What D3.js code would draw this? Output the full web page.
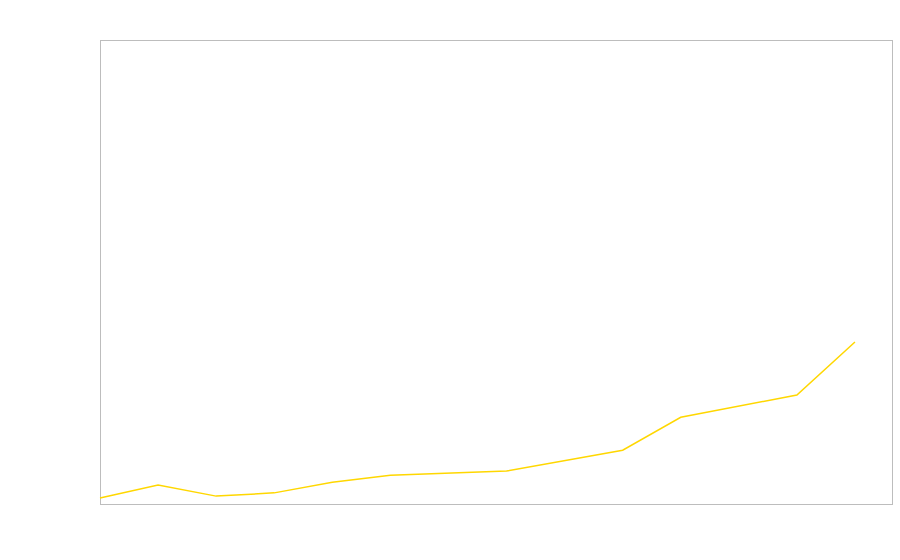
<!DOCTYPE html>
<html>
<head>
<meta charset="utf-8">
<script src="https://cdn.jsdelivr.net/npm/d3@7"></script>
<style>
  html, body { margin: 0; padding: 0; background: #fff; }
</style>
</head>
<body>
<div id="chart"></div>
<script>
// Data (x = period index, y = value on a 0..100 scale)
const periods = [0, 1, 2, 3, 4, 5, 7, 9, 10, 12, 13];
const values = [1.3, 4.1, 1.7, 2.4, 4.7, 6.2, 7.1, 11.6, 18.7, 23.5, 34.9];

const width = 900;
const height = 560;
const margin = { top: 40, right: 7, bottom: 56, left: 100 };

const svg = d3.select('#chart')
  .append('svg')
  .attr('width', width)
  .attr('height', height);

// Scales
const x = d3.scaleLinear()
  .domain([0, 13.655])
  .range([margin.left, width - margin.right]);

const y = d3.scaleLinear()
  .domain([0, 100])
  .range([height - margin.bottom, margin.top]);

// Plot frame
svg.append('rect')
  .attr('x', margin.left + 0.5)
  .attr('y', margin.top + 0.5)
  .attr('width', width - margin.left - margin.right - 1)
  .attr('height', height - margin.top - margin.bottom)
  .attr('fill', 'none')
  .attr('stroke', '#bdbdbd')
  .attr('stroke-width', 1);

// Line
const points = periods.map((p, i) => [p, values[i]]);

const line = d3.line()
  .x(d => x(d[0]))
  .y(d => y(d[1]));

svg.append('path')
  .datum(points)
  .attr('d', line)
  .attr('fill', 'none')
  .attr('stroke', '#ffd700')
  .attr('stroke-width', 1.5);
</script>
</body>
</html>
